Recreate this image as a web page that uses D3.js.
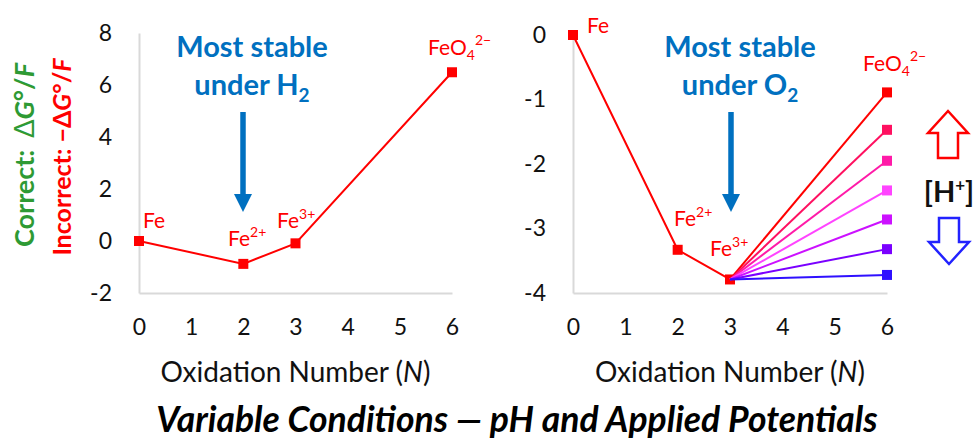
<!DOCTYPE html>
<html>
<head>
<meta charset="utf-8">
<script src="https://cdn.jsdelivr.net/npm/d3@7"></script>
<style>
  body { margin: 0; background: #fff; }
  svg text { font-family: Lato, "Open Sans", sans-serif; }
</style>
</head>
<body>
<script>
// data
var oxNums = [0, 2, 3, 6];
var speciesLeft = ["Fe", "Fe2+", "Fe3+", "FeO42-"];
var leftVals = [0, -0.88, -0.09, 6.49];
var rightOx = [0, 2, 3];
var rightVals = [0, -3.33, -3.79];
var feo4Vals = [-0.89, -1.47, -1.95, -2.41, -2.86, -3.32, -3.72];
var feo4Colors = ["#ff0000", "#ff1060", "#ff1aa8", "#ff44ff", "#cc11ff", "#7a00ff", "#2f10ff"];
var xTicks = [0, 1, 2, 3, 4, 5, 6];
var leftYTicks = [-2, 0, 2, 4, 6, 8];
var rightYTicks = [-4, -3, -2, -1, 0];

var W = 977, H = 441;
var svg = d3.select("body").append("svg")
    .attr("width", W)
    .attr("height", H);

// scales
var xL = d3.scaleLinear().domain([0, 6]).range([139, 452]);
var yL = d3.scaleLinear().domain([-2, 8]).range([293, 33]);
var xR = d3.scaleLinear().domain([0, 6]).range([573, 887]);
var yR = d3.scaleLinear().domain([-4, 0]).range([293, 35]);

var plainNum = function(d) { return String(d); };

function drawAxes(x, y, yTicks) {
  var gx = svg.append("g")
      .attr("transform", "translate(0," + y.range()[0] + ")")
      .call(d3.axisBottom(x).tickValues(xTicks).tickFormat(plainNum)
        .tickSize(0).tickPadding(26).tickSizeOuter(0));
  gx.select(".domain").attr("stroke", "#d9d9d9").attr("stroke-width", 2);
  gx.selectAll("text").attr("font-size", 23).attr("fill", "#111")
    .attr("font-family", "Lato, sans-serif");

  var gy = svg.append("g")
      .attr("transform", "translate(" + x.range()[0] + ",0)")
      .call(d3.axisLeft(y).tickValues(yTicks).tickFormat(plainNum)
        .tickSize(0).tickPadding(27).tickSizeOuter(0));
  gy.select(".domain").attr("stroke", "#d9d9d9").attr("stroke-width", 2);
  gy.selectAll("text").attr("font-size", 23).attr("fill", "#111")
    .attr("font-family", "Lato, sans-serif");

  svg.append("text")
    .attr("x", (x.range()[0] + x.range()[1]) / 2)
    .attr("y", 382)
    .attr("text-anchor", "middle")
    .attr("font-size", 28)
    .attr("fill", "#111")
    .call(function(t) {
      t.append("tspan").text("Oxidation Number (");
      t.append("tspan").attr("font-style", "italic").text("N");
      t.append("tspan").text(")");
    });
}

drawAxes(xL, yL, leftYTicks);
drawAxes(xR, yR, rightYTicks);

// left series
var lineL = d3.line()
  .x(function(d, i) { return xL(oxNums[i]); })
  .y(function(d) { return yL(d); });

svg.append("path")
  .datum(leftVals)
  .attr("d", lineL)
  .attr("fill", "none")
  .attr("stroke", "#ff0000")
  .attr("stroke-width", 2);

svg.selectAll(".mkL")
  .data(leftVals)
  .enter().append("rect")
  .attr("x", function(d, i) { return xL(oxNums[i]) - 5; })
  .attr("y", function(d) { return yL(d) - 5; })
  .attr("width", 10).attr("height", 10)
  .attr("fill", "#ff0000");

// right series: Fe -> Fe2+ -> Fe3+
var lineR = d3.line()
  .x(function(d, i) { return xR(rightOx[i]); })
  .y(function(d) { return yR(d); });

svg.append("path")
  .datum(rightVals)
  .attr("d", lineR)
  .attr("fill", "none")
  .attr("stroke", "#ff0000")
  .attr("stroke-width", 2);

svg.selectAll(".mkR")
  .data(rightVals)
  .enter().append("rect")
  .attr("x", function(d, i) { return xR(rightOx[i]) - 5; })
  .attr("y", function(d) { return yR(d) - 5; })
  .attr("width", 10).attr("height", 10)
  .attr("fill", "#ff0000");

// Fe3+ -> FeO4 2- fan
svg.selectAll(".fan")
  .data(feo4Vals)
  .enter().append("line")
  .attr("x1", xR(3)).attr("y1", yR(rightVals[2]))
  .attr("x2", xR(6)).attr("y2", function(d) { return yR(d); })
  .attr("stroke", function(d, i) { return feo4Colors[i]; })
  .attr("stroke-width", 2);

svg.selectAll(".mkF")
  .data(feo4Vals)
  .enter().append("rect")
  .attr("x", xR(6) - 5)
  .attr("y", function(d) { return yR(d) - 5; })
  .attr("width", 10).attr("height", 10)
  .attr("fill", function(d, i) { return feo4Colors[i]; });

// species labels
function species(x, y, base, sub, sup) {
  var t = svg.append("text")
    .attr("x", x).attr("y", y)
    .attr("font-size", 21)
    .attr("fill", "#ff0000");
  t.append("tspan").text(base);
  if (sub) t.append("tspan").attr("font-size", 14).attr("dy", 5).text(sub);
  if (sup) t.append("tspan").attr("font-size", 14).attr("dy", sub ? -15 : -9).text(sup);
}

species(143, 228, "Fe");
species(228, 246, "Fe", null, "2+");
species(277, 228, "Fe", null, "3+");
species(428, 55, "FeO", "4", "2\u2212");

species(587, 33, "Fe");
species(674, 226, "Fe", null, "2+");
species(710, 256, "Fe", null, "3+");
species(863, 71, "FeO", "4", "2\u2212");

// "Most stable" notes with arrows
function note(cx, gas, ax) {
  svg.append("text")
    .attr("x", cx).attr("y", 57)
    .attr("text-anchor", "middle")
    .attr("font-size", 29)
    .attr("font-weight", "bold")
    .attr("fill", "#0070c0")
    .text("Most stable");
  var t2 = svg.append("text")
    .attr("x", cx).attr("y", 95)
    .attr("text-anchor", "middle")
    .attr("font-size", 29)
    .attr("font-weight", "bold")
    .attr("fill", "#0070c0");
  t2.append("tspan").text("under " + gas);
  t2.append("tspan").attr("font-size", 19).attr("dy", 7).text("2");

  svg.append("line")
    .attr("x1", ax).attr("y1", 112)
    .attr("x2", ax).attr("y2", 195)
    .attr("stroke", "#0070c0")
    .attr("stroke-width", 5.5);
  svg.append("path")
    .attr("d", "M" + (ax - 9) + ",194 L" + (ax + 9) + ",194 L" + ax + ",212 Z")
    .attr("fill", "#0070c0");
}
note(252, "H", 243);
note(740, "O", 731);

// [H+] indicator
function blockArrow(cx, top, bottom, up, color) {
  var hw = 20, sw = 10, hh = 22, p;
  if (up) {
    p = [[cx, top], [cx + hw, top + hh], [cx + sw, top + hh], [cx + sw, bottom],
         [cx - sw, bottom], [cx - sw, top + hh], [cx - hw, top + hh]];
  } else {
    p = [[cx, bottom], [cx + hw, bottom - hh], [cx + sw, bottom - hh], [cx + sw, top],
         [cx - sw, top], [cx - sw, bottom - hh], [cx - hw, bottom - hh]];
  }
  svg.append("path")
    .attr("d", "M" + p.join("L") + "Z")
    .attr("fill", "none")
    .attr("stroke", color)
    .attr("stroke-width", 2.5);
}
blockArrow(948, 111, 158, true, "#ff0000");
blockArrow(949, 218, 264, false, "#2222ff");

svg.append("text")
  .attr("x", 949).attr("y", 202)
  .attr("text-anchor", "middle")
  .attr("font-size", 29)
  .attr("font-weight", "bold")
  .attr("fill", "#111")
  .call(function(t) {
    t.append("tspan").text("[H");
    t.append("tspan").attr("font-size", 17).attr("dy", -11).text("+");
    t.append("tspan").attr("dy", 11).text("]");
  });

// rotated y-axis titles
svg.append("text")
  .attr("transform", "translate(34,155) rotate(-90)")
  .attr("text-anchor", "middle")
  .attr("font-size", 27)
  .attr("font-weight", "bold")
  .attr("fill", "#2e9a34")
  .call(function(t) {
    t.append("tspan").text("Correct:");
    t.append("tspan").attr("dx", 12).attr("font-weight", "normal").text("\u0394");
    t.append("tspan").attr("font-style", "italic").text("G");
    t.append("tspan").text("\u00b0/");
    t.append("tspan").attr("font-style", "italic").text("F");
  });

svg.append("text")
  .attr("transform", "translate(71,157) rotate(-90)")
  .attr("text-anchor", "middle")
  .attr("font-size", 25)
  .attr("font-weight", "bold")
  .attr("fill", "#ff0000")
  .call(function(t) {
    t.append("tspan").text("Incorrect: \u2212\u0394");
    t.append("tspan").attr("font-style", "italic").text("G");
    t.append("tspan").text("\u00b0/");
    t.append("tspan").attr("font-style", "italic").text("F");
  });

// bottom title
svg.append("text")
  .attr("x", 517).attr("y", 432)
  .attr("text-anchor", "middle")
  .attr("font-size", 35.5)
  .attr("font-weight", "bold")
  .attr("font-style", "italic")
  .attr("fill", "#000")
  .text("Variable Conditions \u2014 pH and Applied Potentials");
</script>
</body>
</html>
